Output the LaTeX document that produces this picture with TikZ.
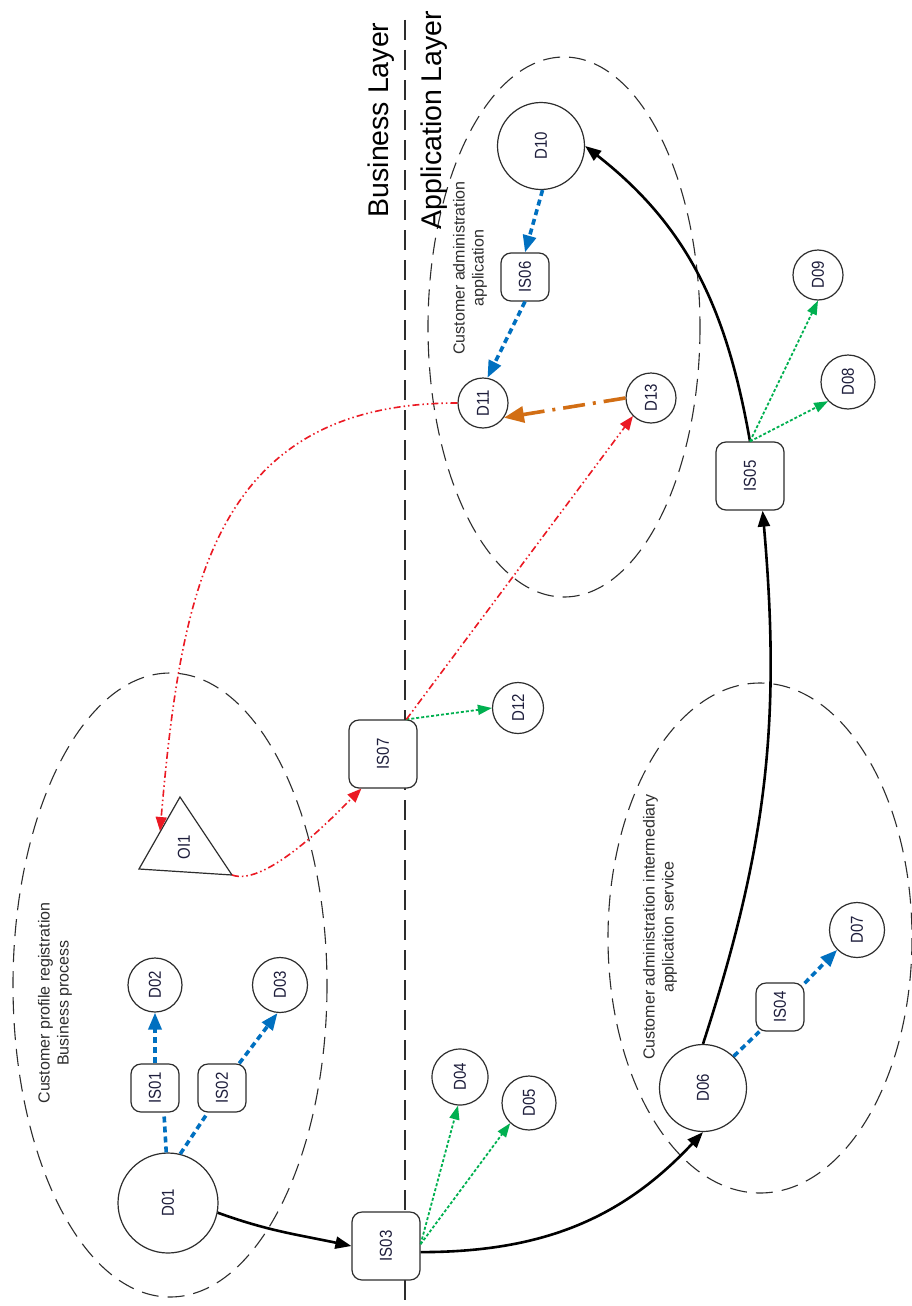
\documentclass[tikz,border=0pt]{standalone}
\usepackage{fontspec}
\setmainfont{Liberation Sans}
\usepackage{graphicx}
\usetikzlibrary{arrows.meta}
\definecolor{linec}{RGB}{45,45,45}
\definecolor{txtc}{RGB}{30,30,60}
\definecolor{blu}{RGB}{0,112,192}
\definecolor{grn}{RGB}{0,176,80}
\definecolor{org}{RGB}{210,110,20}
\definecolor{rdc}{RGB}{235,25,35}
\newcommand{\vtext}[1]{\rotatebox{90}{\scalebox{1}[1.15]{#1}}}
\tikzset{
  dat/.style={circle,draw=linec,fill=white,line width=1.2pt,inner sep=0pt,text=txtc,font=\fontsize{15}{18}\selectfont},
  srv/.style={rectangle,rounded corners=10pt,draw=linec,fill=white,line width=1.2pt,inner sep=0pt,text=txtc,font=\fontsize{15}{18}\selectfont},
  zone/.style={draw=linec,line width=1.1pt,dash pattern=on 17pt off 9pt},
  grp/.style={rotate=90,align=center,inner sep=0pt,font=\fontsize{16}{19}\selectfont,text=linec},
  lay/.style={rotate=90,inner sep=0pt,font=\fontsize{28.5}{34}\selectfont},
  flow/.style={draw=black,line width=2.6pt,-{Triangle[length=16pt,width=12pt]}},
  bdash/.style={draw=blu,line width=3.6pt,dash pattern=on 6pt off 4pt},
  barr/.style={bdash,-{Triangle[length=17pt,width=13pt]}},
  gdot/.style={draw=grn,line width=1.8pt,dash pattern=on 3pt off 2pt,-{Triangle[length=14pt,width=10pt]}},
  rdd/.style={draw=rdc,line width=1.6pt,dash pattern=on 7pt off 3pt on 1.5pt off 3pt on 1.5pt off 3pt,-{Triangle[length=14pt,width=11pt]}},
  odash/.style={draw=org,line width=3.6pt,dash pattern=on 22pt off 8pt on 3pt off 8pt,-{Triangle[length=20pt,width=16pt]}}
}
\begin{document}
\begin{tikzpicture}[x=1pt,y=-1pt]
\useasboundingbox[fill=white] (0,0) rectangle (911,1306);
% zones
\draw[zone] (170,985) ellipse [x radius=157,y radius=312];
\draw[zone] (564,327) ellipse [x radius=136,y radius=270];
\draw[zone] (760,938) ellipse [x radius=152,y radius=255];
\draw[linec,line width=1.3pt,dash pattern=on 20pt off 10pt] (405,20) -- (405,1306);
\node[lay] (blayer) at (381,120) {Business Layer};
\node[lay] (alayer) at (434,120) {Application Layer};
\node[grp] (g1) at (55,1003) {Customer profile registration\\Business process};
\node[grp] (g2) at (470,268) {Customer administration\\application};
\node[grp] (g3) at (660,927) {Customer administration intermediary\\application service};
% data nodes
\node[dat,minimum size=100pt] (d01) at (168,1203) {\vtext{D01}};
\node[dat,minimum size=54pt] (d02) at (155,985) {\vtext{D02}};
\node[dat,minimum size=55pt] (d03) at (280,985) {\vtext{D03}};
\node[dat,minimum size=56pt] (d04) at (460,1077) {\vtext{D04}};
\node[dat,minimum size=54pt] (d05) at (529,1103) {\vtext{D05}};
\node[dat,minimum size=87pt] (d06) at (703,1088) {\vtext{D06}};
\node[dat,minimum size=55pt] (d07) at (857,930) {\vtext{D07}};
\node[dat,minimum size=54pt] (d08) at (848,382) {\vtext{D08}};
\node[dat,minimum size=50pt] (d09) at (818,275) {\vtext{D09}};
\node[dat,minimum size=87pt] (d10) at (541,146) {\vtext{D10}};
\node[dat,minimum size=50pt] (d11) at (483,403) {\vtext{D11}};
\node[dat,minimum size=51pt] (d12) at (518,708) {\vtext{D12}};
\node[dat,minimum size=50pt] (d13) at (651,398) {\vtext{D13}};
% services
\node[srv,minimum size=48pt] (is01) at (155,1088) {\vtext{IS01}};
\node[srv,minimum size=48pt] (is02) at (222,1088) {\vtext{IS02}};
\node[srv,minimum size=68pt] (is03) at (386,1246) {\vtext{IS03}};
\node[srv,minimum size=48pt] (is04) at (780,1007) {\vtext{IS04}};
\node[srv,minimum size=68pt] (is05) at (750,476) {\vtext{IS05}};
\node[srv,minimum size=48pt] (is06) at (525,277) {\vtext{IS06}};
\node[srv,minimum size=68pt] (is07) at (383,754) {\vtext{IS07}};
% OI1
\coordinate (oi1t) at (180,797);
\coordinate (oi1l) at (139,869);
\coordinate (oi1r) at (232,875);
\coordinate (oi1in) at (160,831);
\draw[linec,fill=white,line width=1.2pt] (oi1t) -- (oi1l) -- (oi1r) -- cycle;
\node[text=txtc,font=\fontsize{15}{18}\selectfont] (oi1) at (184,847) {\vtext{OI1}};
% main flow
\draw[flow] (d01.-11) to[out=-20,in=168] (is03.west);
\draw[flow] (is03.-10) to[out=0,in=227] (d06.-90);
\draw[flow] (d06.90) to[out=72,in=-85] (is05.-70);
\draw[flow] (is05.north) to[out=100,in=-38] (d10.east);
% blue
\draw[bdash] (d01.92) -- (is01.-70);
\draw[barr] (is01.north) -- (d02.south);
\draw[bdash] (d01.76) -- (is02.-120);
\draw[barr] (is02.55) -- (d03.-95);
\draw[bdash] (d06.46) -- (is04.-130);
\draw[barr] (is04.44) -- (d07.-135);
\draw[barr] (d10.-88) -- (is06.north);
\draw[barr] (is06.south) -- (d11.80);
% green
\draw[gdot] (is03.3) -- (d04.-94);
\draw[gdot] (is03.3) -- (d05.-133);
\draw[gdot] (is07.56) -- (d12.west);
\draw[gdot] (is05.north) -- (d08.-136);
\draw[gdot] (is05.north) -- (d09.-90);
% red
\draw[rdd] (is07.56) -- (d13.-135);
\draw[rdd] (d11.west) to[out=180,in=85,looseness=1.2] (oi1in);
\draw[rdd] (oi1r) to[out=-20,in=225,looseness=0.6] (is07.-122);
% orange
\draw[odash] (d13.west) -- (d11.-35);
\end{tikzpicture}
\end{document}
